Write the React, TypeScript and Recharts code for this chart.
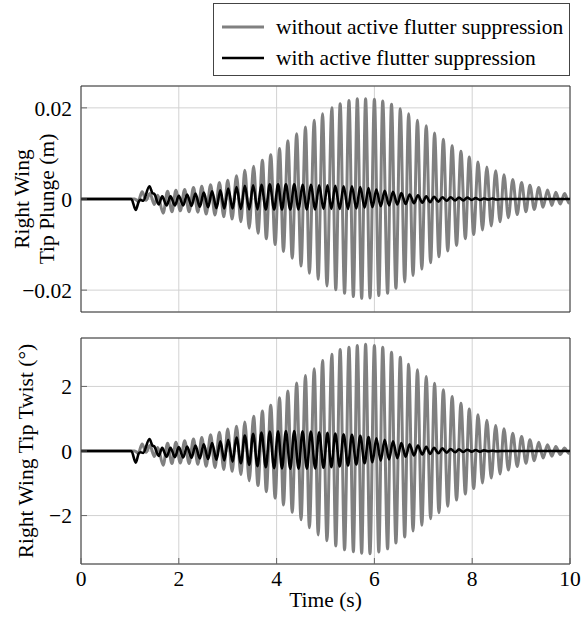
import { LineChart, Line, XAxis, YAxis, CartesianGrid, ReferenceArea } from "recharts"

const FONT = "'Liberation Serif', Tinos, 'DejaVu Serif', serif"
const FS = 21.5

// shared x ticks
const timeTicks = [0, 2, 4, 6, 8, 10]
const plungeTicks = [-0.02, 0, 0.02]
const twistTicks = [-2, 0, 2]

// extrema times of the grey (uncontrolled) response
const grayTime = [
  0, 1.1, 1.17, 1.25, 1.33, 1.41, 1.5, 1.57, 1.68, 1.77,
  1.86, 1.94, 2.03, 2.12, 2.21, 2.3, 2.39, 2.47, 2.56, 2.65,
  2.74, 2.83, 2.92, 3.0, 3.09, 3.18, 3.27, 3.35, 3.44, 3.53,
  3.62, 3.71, 3.79, 3.88, 3.97, 4.06, 4.14, 4.23, 4.32, 4.41,
  4.5, 4.59, 4.67, 4.77, 4.85, 4.94, 5.03, 5.13, 5.21, 5.3,
  5.39, 5.48, 5.57, 5.65, 5.74, 5.82, 5.91, 6.0, 6.09, 6.17,
  6.27, 6.35, 6.44, 6.53, 6.62, 6.7, 6.79, 6.88, 6.97, 7.06,
  7.15, 7.23, 7.32, 7.41, 7.5, 7.59, 7.68, 7.77, 7.86, 7.94,
  8.03, 8.12, 8.21, 8.3, 8.39, 8.48, 8.57, 8.65, 8.74, 8.83,
  8.92, 9.01, 9.1, 9.18, 9.27, 9.36, 9.45, 9.54, 9.63, 9.71,
  9.8, 9.89, 9.98, 10,
]

const grayPlunge = [
  0, 0, -0.0005, 0.0016, -0.0003, 0.0012, -0.0012, 0.0008, -0.0031, 0.0017,
  -0.0028, 0.0019, -0.0026, 0.0021, -0.0028, 0.0025, -0.0029, 0.0028, -0.0033, 0.0031,
  -0.0035, 0.0036, -0.0039, 0.0041, -0.0044, 0.0051, -0.005, 0.0063, -0.0064, 0.0072,
  -0.0075, 0.0085, -0.0087, 0.0097, -0.01, 0.0111, -0.0115, 0.0128, -0.013, 0.0143,
  -0.0147, 0.0158, -0.0163, 0.0173, -0.0176, 0.0187, -0.0191, 0.02, -0.0199, 0.0209,
  -0.0207, 0.0216, -0.0214, 0.022, -0.0218, 0.022, -0.0217, 0.0219, -0.0212, 0.0215,
  -0.0207, 0.0208, -0.0196, 0.0198, -0.0182, 0.0187, -0.0168, 0.0173, -0.0154, 0.0161,
  -0.014, 0.0145, -0.0127, 0.0131, -0.0114, 0.0117, -0.0102, 0.0105, -0.0087, 0.0092,
  -0.0078, 0.0081, -0.0068, 0.007, -0.0059, 0.0062, -0.005, 0.0053, -0.0041, 0.0043,
  -0.0034, 0.0036, -0.0028, 0.003, -0.0023, 0.0025, -0.0018, 0.002, -0.0014, 0.0015,
  -0.0011, 0.0012, -0.0009, -0.0008,
]

const grayTwist = [
  0, 0, -0.07, 0.22, -0.04, 0.17, -0.17, 0.11, -0.44, 0.24,
  -0.39, 0.27, -0.37, 0.32, -0.39, 0.37, -0.41, 0.42, -0.47, 0.5,
  -0.51, 0.58, -0.57, 0.68, -0.63, 0.77, -0.73, 0.9, -0.92, 1.08,
  -1.07, 1.24, -1.26, 1.42, -1.46, 1.65, -1.67, 1.86, -1.9, 2.11,
  -2.13, 2.34, -2.38, 2.55, -2.6, 2.8, -2.78, 3.0, -2.94, 3.14,
  -3.06, 3.21, -3.12, 3.27, -3.17, 3.31, -3.18, 3.27, -3.13, 3.21,
  -3.03, 3.06, -2.85, 2.9, -2.66, 2.69, -2.48, 2.52, -2.3, 2.31,
  -2.1, 2.1, -1.91, 1.9, -1.71, 1.69, -1.52, 1.48, -1.33, 1.3,
  -1.16, 1.12, -0.99, 0.95, -0.84, 0.79, -0.71, 0.69, -0.59, 0.55,
  -0.48, 0.45, -0.38, 0.35, -0.3, 0.27, -0.22, 0.19, -0.16, 0.14,
  -0.11, 0.09, -0.08, -0.07,
]

// extrema times of the black (controlled) response
const blackTime = [
  0, 1.03, 1.12, 1.18, 1.22, 1.27, 1.4, 1.46, 1.5, 1.59,
  1.66, 1.75, 1.83, 1.92, 2.0, 2.09, 2.17, 2.26, 2.34, 2.43,
  2.51, 2.6, 2.68, 2.77, 2.85, 2.93, 3.01, 3.1, 3.18, 3.27,
  3.35, 3.44, 3.52, 3.61, 3.69, 3.78, 3.86, 3.95, 4.03, 4.11,
  4.19, 4.28, 4.36, 4.45, 4.53, 4.62, 4.7, 4.79, 4.87, 4.96,
  5.04, 5.12, 5.2, 5.29, 5.37, 5.46, 5.54, 5.63, 5.71, 5.8,
  5.88, 5.96, 6.04, 6.13, 6.21, 6.3, 6.38, 6.47, 6.55, 6.64,
  6.72, 6.81, 6.89, 6.98, 7.06, 7.14, 7.22, 7.31, 7.39, 7.48,
  7.56, 7.65, 7.73, 7.82, 7.9, 7.99, 8.07, 8.16, 8.24, 8.33,
  8.41, 8.5, 8.6, 10,
]

const blackPlunge = [
  0, 0, -0.0024, -0.0006, -0.0002, -0.0004, 0.0028, 0.0013, 0.0011, -0.0012,
  0.0006, -0.0014, 0.0006, -0.0014, 0.0007, -0.0014, 0.001, -0.0015, 0.0012, -0.0017,
  0.0014, -0.0018, 0.0017, -0.002, 0.0019, -0.0021, 0.0023, -0.0021, 0.0026, -0.0022,
  0.0029, -0.0023, 0.003, -0.0023, 0.0031, -0.0023, 0.0032, -0.0023, 0.0032, -0.0023,
  0.0032, -0.0023, 0.0032, -0.0023, 0.0031, -0.0023, 0.0031, -0.0023, 0.003, -0.0022,
  0.003, -0.0022, 0.0029, -0.0022, 0.0028, -0.0022, 0.0028, -0.0021, 0.0026, -0.0019,
  0.0024, -0.0018, 0.0021, -0.0016, 0.0018, -0.0014, 0.0016, -0.0012, 0.0013, -0.0011,
  0.001, -0.0009, 0.0008, -0.0008, 0.0006, -0.0007, 0.0005, -0.0006, 0.0004, -0.0004,
  0.0004, -0.0003, 0.0003, -0.0003, 0.0003, -0.0002, 0.0002, -0.0002, 0.0001, -0.0001,
  0.0001, -0.0001, 0, 0,
]

const blackTwist = [
  0, 0, -0.36, -0.08, -0.04, -0.06, 0.37, 0.17, 0.14, -0.15,
  0.1, -0.18, 0.1, -0.19, 0.12, -0.2, 0.14, -0.21, 0.17, -0.23,
  0.21, -0.25, 0.25, -0.27, 0.3, -0.29, 0.35, -0.33, 0.42, -0.38,
  0.48, -0.43, 0.53, -0.47, 0.57, -0.5, 0.6, -0.53, 0.61, -0.54,
  0.62, -0.55, 0.62, -0.55, 0.61, -0.55, 0.6, -0.54, 0.58, -0.52,
  0.56, -0.5, 0.54, -0.48, 0.52, -0.45, 0.5, -0.42, 0.47, -0.38,
  0.43, -0.35, 0.39, -0.3, 0.35, -0.26, 0.3, -0.22, 0.25, -0.18,
  0.21, -0.14, 0.17, -0.11, 0.13, -0.09, 0.1, -0.07, 0.08, -0.05,
  0.06, -0.04, 0.05, -0.03, 0.04, -0.02, 0.03, -0.02, 0.02, -0.01,
  0.01, -0.01, 0, 0,
]

const series = [
  { label: "without active flutter suppression", color: "#808080", width: 3 },
  { label: "with active flutter suppression", color: "#000000", width: 2.6 },
]

const toPoints = (ts: number[], vs: number[]) =>
  ts.slice(0, vs.length).map((t, i) => ({ t, v: vs[i] }))

const fmt = (v: number) => (v === 0 ? "0" : (v < 0 ? "\u2212" : "") + Math.abs(v))

const tickStyle = { fill: "#000", fontSize: FS, fontFamily: FONT }

type PanelProps = {
  height: number
  top: number
  bottom: number
  xHeight: number
  domain: [number, number]
  ticks: number[]
  gray: { t: number; v: number }[]
  black: { t: number; v: number }[]
  showX: boolean
}

function Panel({ height, top, bottom, xHeight, domain, ticks, gray, black, showX }: PanelProps) {
  return (
    <LineChart width={584} height={height} margin={{ top, right: 14, bottom, left: 21 }}>
      <CartesianGrid stroke="#d2d2d2" strokeWidth={1} />
      <XAxis
        type="number"
        dataKey="t"
        domain={[0, 10]}
        ticks={timeTicks}
        height={xHeight}
        axisLine={false}
        stroke="#666"
        tickSize={-6}
        tickMargin={13}
        tick={tickStyle}
        tickFormatter={(v: number) => (showX ? String(v) : "")}
        allowDataOverflow
      />
      <XAxis
        xAxisId="top"
        orientation="top"
        type="number"
        dataKey="t"
        domain={[0, 10]}
        ticks={timeTicks}
        height={0}
        axisLine={false}
        stroke="#666"
        tickSize={-6}
        tickFormatter={() => ""}
      />
      <YAxis
        type="number"
        domain={domain}
        ticks={ticks}
        width={60}
        axisLine={false}
        stroke="#666"
        tickSize={-6}
        tickMargin={15}
        tick={tickStyle}
        tickFormatter={fmt}
        allowDataOverflow
      />
      <YAxis
        yAxisId="right"
        orientation="right"
        type="number"
        domain={domain}
        ticks={ticks}
        width={0}
        axisLine={false}
        stroke="#666"
        tickSize={-6}
        tickFormatter={() => ""}
      />
      <ReferenceArea x1={0} x2={10} y1={domain[0]} y2={domain[1]} fill="none" stroke="#333" strokeWidth={1} />
      <Line
        data={gray}
        dataKey="v"
        type="monotone"
        stroke={series[0].color}
        strokeWidth={series[0].width}
        dot={false}
        isAnimationActive={false}
      />
      <Line
        data={black}
        dataKey="v"
        type="monotone"
        stroke={series[1].color}
        strokeWidth={series[1].width}
        dot={false}
        isAnimationActive={false}
      />
    </LineChart>
  )
}

export default function App() {
  return (
    <div style={{ position: "absolute", left: 0, top: 0, width: 584, height: 622, background: "#fff", fontFamily: FONT, color: "#000" }}>
      <div style={{ position: "absolute", left: 0, top: 0 }}>
        <Panel
          height={320}
          top={86}
          bottom={8}
          xHeight={0}
          domain={[-0.0248, 0.0248]}
          ticks={plungeTicks}
          gray={toPoints(grayTime, grayPlunge)}
          black={toPoints(blackTime, blackPlunge)}
          showX={false}
        />
      </div>
      <div style={{ position: "absolute", left: 0, top: 320 }}>
        <Panel
          height={302}
          top={18}
          bottom={8}
          xHeight={50}
          domain={[-3.5, 3.5]}
          ticks={twistTicks}
          gray={toPoints(grayTime, grayTwist)}
          black={toPoints(blackTime, blackTwist)}
          showX={true}
        />
      </div>

      {/* legend */}
      <div
        style={{
          position: "absolute",
          left: 213,
          top: 3,
          width: 357,
          height: 73,
          boxSizing: "border-box",
          border: "1px solid #444",
          background: "#fff",
          fontSize: FS,
        }}
      >
        {series.map((s, i) => (
          <div key={s.label} style={{ position: "absolute", left: 8, top: 8 + i * 31, height: 30, display: "flex", alignItems: "center", whiteSpace: "nowrap" }}>
            <svg width={42} height={6} style={{ marginRight: 12 }}>
              <line x1={0} y1={3} x2={42} y2={3} stroke={s.color} strokeWidth={s.width} />
            </svg>
            <span>{s.label}</span>
          </div>
        ))}
      </div>

      {/* y axis titles */}
      <div
        style={{
          position: "absolute",
          left: 35,
          top: 199,
          transform: "translate(-50%, -50%) rotate(-90deg)",
          fontSize: FS,
          lineHeight: "25px",
          textAlign: "center",
          whiteSpace: "nowrap",
        }}
      >
        Right Wing
        <br />
        Tip Plunge (m)
      </div>
      <div
        style={{
          position: "absolute",
          left: 26,
          top: 451,
          transform: "translate(-50%, -50%) rotate(-90deg)",
          fontSize: FS,
          lineHeight: "25px",
          whiteSpace: "nowrap",
        }}
      >
        Right Wing Tip Twist (°)
      </div>

      {/* x axis title */}
      <div style={{ position: "absolute", left: 81, width: 489, top: 588, textAlign: "center", fontSize: FS, lineHeight: "25px" }}>
        Time (s)
      </div>
    </div>
  )
}
